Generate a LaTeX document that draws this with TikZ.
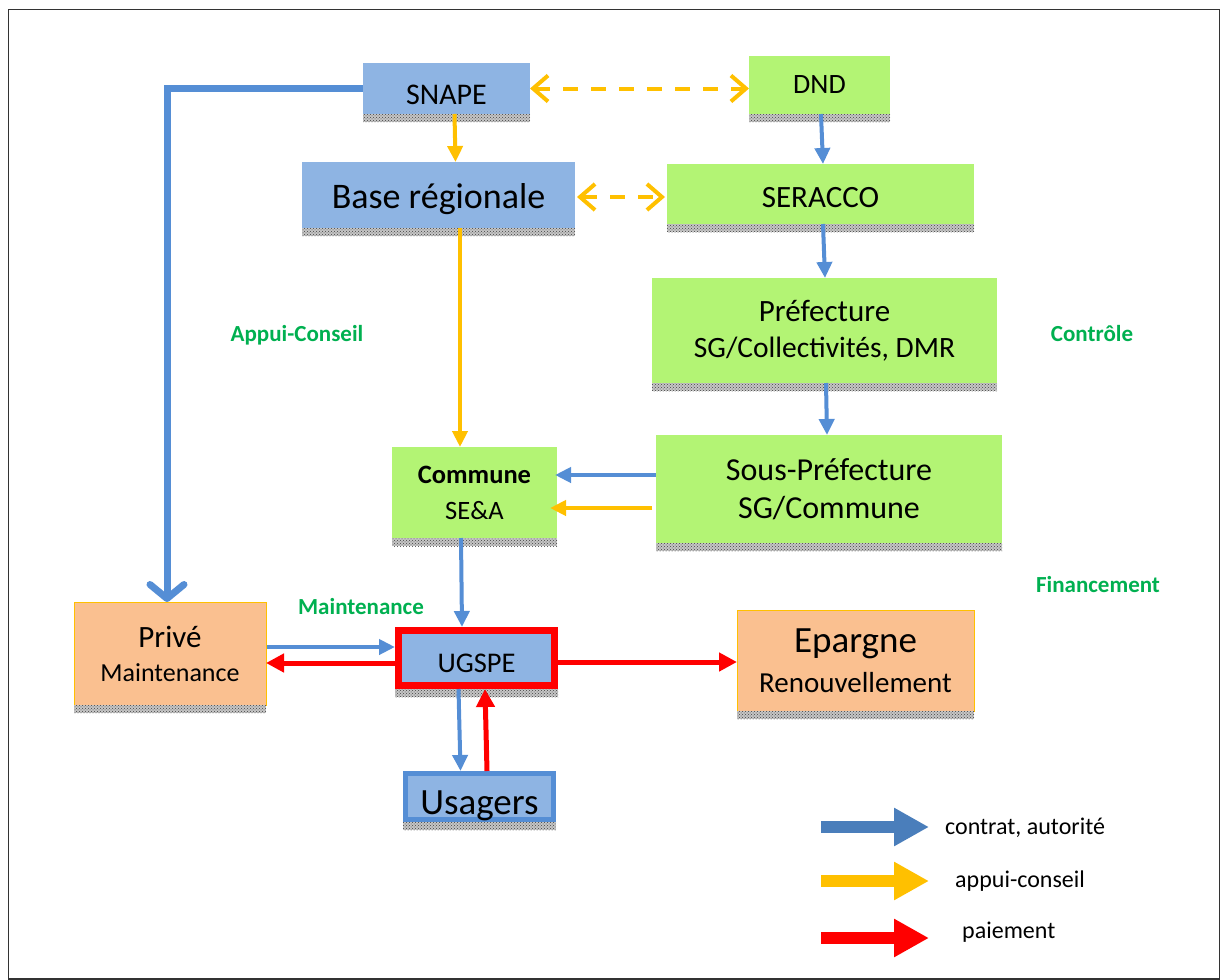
\documentclass[tikz,border=0pt]{standalone}
\usepackage{fontspec}
\setmainfont{Carlito}
\usetikzlibrary{arrows.meta,patterns,calc}
\definecolor{boxblue}{HTML}{8EB4E3}
\definecolor{boxgreen}{HTML}{B3F474}
\definecolor{boxorange}{HTML}{FAC090}
\definecolor{bordorange}{HTML}{FFC000}
\definecolor{arrblue}{HTML}{558ED5}
\definecolor{arrorange}{HTML}{FFC000}
\definecolor{arrred}{HTML}{FF0000}
\definecolor{legblue}{HTML}{4A7EBB}
\definecolor{labgreen}{HTML}{00B050}
\newcommand{\fs}[2]{\fontsize{#1}{#2}\selectfont}
\begin{document}
\begin{tikzpicture}[x=1pt,y=-1pt,
  box/.style={inner sep=0pt, outer sep=0pt, align=center, text=black},
  bluebox/.style={box, fill=boxblue},
  greenbox/.style={box, fill=boxgreen},
  orangebox/.style={box, fill=boxorange, draw=bordorange, line width=1pt},
  lab/.style={inner sep=0pt, text=labgreen, font=\bfseries\fs{23}{28}},
  legtext/.style={inner sep=0pt, anchor=west, text=black, font=\fs{24}{28}},
  barr/.style={draw=arrblue, line width=4pt, -{Triangle[length=16pt,width=15pt]}},
  oarr/.style={draw=arrorange, line width=4pt, -{Triangle[length=16pt,width=15pt]}},
  rarr/.style={draw=arrred, line width=5pt, -{Triangle[length=18pt,width=18pt]}},
  darr/.style={draw=arrorange, line width=4pt, dash pattern=on 15pt off 13pt,
    {Straight Barb[length=15pt,width=26pt]}-{Straight Barb[length=15pt,width=26pt]}},
  legarr/.style={line width=12pt, -{Triangle[length=35pt,width=36pt]}},
  shadowfill/.style={fill=gray!45},
  shadowpat/.style={pattern=crosshatch dots, pattern color=black!75}
]
\useasboundingbox (0,0) rectangle (1221,980);
\draw[line width=1.5pt, black!80] (8.5,9.5) rectangle (1219.5,979);

% boxes
\node[bluebox, minimum width=167pt, minimum height=51pt, text height=31pt, text depth=0pt, font=\fs{30}{36}] (snape) at (446.5,88.5) {SNAPE};
\node[greenbox, minimum width=141pt, minimum height=58pt, font=\fs{28}{34}] (dnd) at (819.5,85) {DND};
\node[bluebox, minimum width=273pt, minimum height=66pt, text height=26pt, text depth=0pt, font=\fs{36}{42}] (base) at (438.5,195) {Base régionale};
\node[greenbox, minimum width=307pt, minimum height=60pt, text height=26pt, text depth=0pt, font=\fs{31}{36}] (seracco) at (820.5,194) {SERACCO};
\node[greenbox, minimum width=345pt, minimum height=105pt, font=\fs{31}{36}] (pref) at (824.5,330.5)
  {Préfecture\\\fs{29.5}{36}SG/Collectivités, DMR};
\node[greenbox, minimum width=346pt, minimum height=108pt, font=\fs{32}{38}] (spref) at (829,489)
  {Sous-Préfecture\\SG/Commune};
\node[greenbox, minimum width=165pt, minimum height=91pt, font=\fs{26.5}{36}] (commune) at (474.5,492.5)
  {\textbf{Commune}\\SE\&A};
\node[orangebox, minimum width=192pt, minimum height=103pt, font=\fs{31}{34}] (prive) at (170,653.5)
  {Privé\\\fs{26}{34}Maintenance};
\node[bluebox, draw=arrred, line width=7pt, outer sep=3.5pt, minimum width=156pt, minimum height=55pt, text height=28pt, text depth=0pt, font=\fs{28.5}{34}] (ugspe) at (476.5,658) {UGSPE};
\node[bluebox, draw=arrblue, line width=5pt, outer sep=2.5pt, minimum width=148pt, minimum height=46pt, text height=35pt, text depth=0pt, font=\fs{37}{42}] (usagers) at (479.5,796.5) {Usagers};
\node[orangebox, minimum width=237pt, minimum height=101pt, font=\fs{37}{40}] (epargne) at (855.5,660.5)
  {Epargne\\\fs{29}{40}Renouvellement};

% shadows
\foreach \n in {snape,dnd,base,seracco,pref,spref,commune,prive,ugspe,usagers,epargne}{
  \fill[shadowfill] (\n.south west) rectangle ([yshift=-8pt]\n.south east);
  \fill[shadowpat] (\n.south west) rectangle ([yshift=-8pt]\n.south east);
}

% green labels
\node[lab] (lapp) at (297,335) {Appui-Conseil};
\node[lab] (lctl) at (1092,334) {Contrôle};
\node[lab] (lfin) at (1098,585) {Financement};
\node[lab] (lmai) at (361,607) {Maintenance};

% connectors
\draw[draw=arrblue, line width=7pt, -{Straight Barb[length=14pt,width=34pt,round]}]
  (snape.west) -| ($(prive.north)+(-3,0)$);
\draw[darr] (snape.east) -- (snape.east -| dnd.west);
\draw[darr] ($(base.east)+(2,2)$) -- ($(base.east -| seracco.west)+(-2,2)$);
\draw[oarr] ($(snape.south)+(8,0)$) -- ($(base.north)+(17,0)$);
\draw[barr] ($(dnd.south)+(1.5,0)$) -- ($(seracco.north)+(2.5,0)$);
\draw[barr] ($(seracco.south)+(2.5,0)$) -- ($(pref.north)+(0.5,0)$);
\draw[barr] ($(pref.south)+(1.5,0)$) -- ($(spref.north)+(-2,0)$);
\draw[oarr] ($(base.south)+(21.5,0)$) -- ($(commune.north)+(-14.5,0)$);
\draw[barr] ($(spref.west)+(0,-14)$) -- ($(commune.east |- spref.west)+(-2,-14)$);
\draw[oarr] ($(spref.west)+(-4,19)$) -- ($(commune.east |- spref.west)+(-7,19)$);
\draw[barr] ($(commune.south)+(-13.5,0)$) -- ($(ugspe.north)+(-14.5,0)$);
\draw[barr] ($(prive.east)+(1,-6.5)$) -- ($(ugspe.west |- prive.east)+(0,-6.5)$);
\draw[rarr] ($(ugspe.west)+(0,5)$) -- ($(prive.east |- ugspe.west)+(0,5)$);
\draw[rarr] ($(ugspe.east)+(0,4)$) -- ($(epargne.west |- ugspe.east)+(0,4)$);
\draw[barr] ($(ugspe.south)+(-18,0)$) -- ($(usagers.north)+(-19,0)$);
\draw[rarr] ($(usagers.north)+(7.5,0)$) -- ($(ugspe.south)+(8.5,0)$);

% legend
\coordinate (lb1) at (821,827); \coordinate (lb2) at (929,827);
\coordinate (lo1) at (821,881); \coordinate (lo2) at (929,881);
\coordinate (lr1) at (821,938); \coordinate (lr2) at (929,938);
\draw[legarr, draw=legblue, fill=legblue] (lb1) -- (lb2);
\draw[legarr, draw=arrorange, fill=arrorange] (lo1) -- (lo2);
\draw[legarr, draw=arrred, fill=arrred] (lr1) -- (lr2);
\node[legtext] (tb) at (945,828) {contrat, autorité};
\node[legtext] (to) at (955,881) {appui-conseil};
\node[legtext] (tr) at (962,932) {paiement};
\end{tikzpicture}
\end{document}
